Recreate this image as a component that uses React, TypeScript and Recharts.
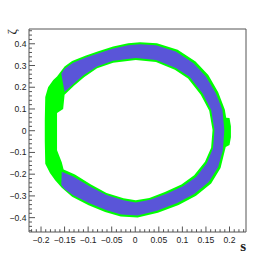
import React from 'react';
import { ScatterChart, Scatter, XAxis, YAxis, ReferenceLine } from 'recharts';

const GREEN = '#00ff00';
const BLUE = '#5a55d8';
const AXIS = '#555555';
const TEXT = '#222222';

const xDomain = [-0.2255, 0.235];
const yDomain = [-0.466, 0.468];

// edges of the blue band (outer edge, then inner edge back)
const blueOuter = [
  { s: -0.157, z: 0.262 }, { s: -0.150, z: 0.285 }, { s: -0.132, z: 0.313 },
  { s: -0.105, z: 0.337 }, { s: -0.078, z: 0.357 }, { s: -0.047, z: 0.378 },
  { s: -0.015, z: 0.393 }, { s: 0.010, z: 0.398 }, { s: 0.044, z: 0.393 },
  { s: 0.086, z: 0.365 }, { s: 0.123, z: 0.312 }, { s: 0.150, z: 0.250 },
  { s: 0.171, z: 0.172 }, { s: 0.185, z: 0.095 }, { s: 0.189, z: 0.003 },
  { s: 0.186, z: -0.089 }, { s: 0.176, z: -0.167 }, { s: 0.156, z: -0.236 },
  { s: 0.125, z: -0.291 }, { s: 0.089, z: -0.333 }, { s: 0.046, z: -0.368 },
  { s: 0.005, z: -0.390 }, { s: -0.030, z: -0.386 }, { s: -0.061, z: -0.366 },
  { s: -0.096, z: -0.335 }, { s: -0.132, z: -0.297 }, { s: -0.150, z: -0.268 },
  { s: -0.157, z: -0.250 },
];
const blueInner = [
  { s: -0.156, z: -0.189 }, { s: -0.132, z: -0.211 }, { s: -0.096, z: -0.257 },
  { s: -0.061, z: -0.296 }, { s: -0.025, z: -0.320 }, { s: 0.001, z: -0.330 },
  { s: 0.031, z: -0.318 }, { s: 0.065, z: -0.291 }, { s: 0.101, z: -0.256 },
  { s: 0.129, z: -0.213 }, { s: 0.152, z: -0.149 }, { s: 0.165, z: -0.080 },
  { s: 0.168, z: 0.003 }, { s: 0.161, z: 0.095 }, { s: 0.143, z: 0.171 },
  { s: 0.115, z: 0.248 }, { s: 0.086, z: 0.289 }, { s: 0.044, z: 0.325 },
  { s: 0.001, z: 0.334 }, { s: -0.047, z: 0.322 }, { s: -0.081, z: 0.296 },
  { s: -0.110, z: 0.255 }, { s: -0.132, z: 0.214 }, { s: -0.150, z: 0.178 },
];

// outline of the green band and of the empty middle
const greenOuter = [
  { s: -0.174, z: 0.233 }, { s: -0.166, z: 0.250 }, { s: -0.158, z: 0.272 },
  { s: -0.150, z: 0.295 }, { s: -0.134, z: 0.321 }, { s: -0.106, z: 0.345 },
  { s: -0.080, z: 0.365 }, { s: -0.047, z: 0.387 }, { s: -0.015, z: 0.402 },
  { s: 0.010, z: 0.407 }, { s: 0.046, z: 0.402 }, { s: 0.090, z: 0.373 },
  { s: 0.128, z: 0.319 }, { s: 0.155, z: 0.256 }, { s: 0.176, z: 0.177 },
  { s: 0.190, z: 0.098 }, { s: 0.193, z: 0.060 }, { s: 0.200, z: 0.058 },
  { s: 0.203, z: 0.020 }, { s: 0.203, z: -0.030 }, { s: 0.200, z: -0.066 },
  { s: 0.192, z: -0.075 }, { s: 0.190, z: -0.092 }, { s: 0.181, z: -0.172 },
  { s: 0.161, z: -0.243 }, { s: 0.129, z: -0.299 }, { s: 0.092, z: -0.342 },
  { s: 0.048, z: -0.377 }, { s: 0.005, z: -0.399 }, { s: -0.031, z: -0.395 },
  { s: -0.064, z: -0.374 }, { s: -0.099, z: -0.343 }, { s: -0.134, z: -0.304 },
  { s: -0.156, z: -0.262 }, { s: -0.170, z: -0.228 }, { s: -0.181, z: -0.195 },
  { s: -0.191, z: -0.152 }, { s: -0.192, z: -0.050 }, { s: -0.192, z: 0.050 },
  { s: -0.191, z: 0.155 }, { s: -0.185, z: 0.200 },
];
const greenInner = [
  { s: -0.150, z: 0.165 }, { s: -0.153, z: 0.100 }, { s: -0.166, z: 0.082 },
  { s: -0.166, z: -0.090 }, { s: -0.156, z: -0.145 }, { s: -0.152, z: -0.178 },
  { s: -0.128, z: -0.202 }, { s: -0.094, z: -0.248 }, { s: -0.061, z: -0.287 },
  { s: -0.025, z: -0.311 }, { s: 0.001, z: -0.320 }, { s: 0.030, z: -0.309 },
  { s: 0.063, z: -0.282 }, { s: 0.098, z: -0.247 }, { s: 0.125, z: -0.205 },
  { s: 0.148, z: -0.143 }, { s: 0.161, z: -0.078 }, { s: 0.164, z: 0.003 },
  { s: 0.157, z: 0.092 }, { s: 0.139, z: 0.166 }, { s: 0.112, z: 0.240 },
  { s: 0.084, z: 0.281 }, { s: 0.044, z: 0.316 }, { s: 0.001, z: 0.325 },
  { s: -0.047, z: 0.313 }, { s: -0.081, z: 0.287 }, { s: -0.108, z: 0.247 },
  { s: -0.130, z: 0.207 },
];

const blueBand = [...blueOuter, ...blueInner];

const xTicks = [
  -0.22, -0.21, -0.2, -0.19, -0.18, -0.17, -0.16, -0.15, -0.14, -0.13, -0.12, -0.11,
  -0.1, -0.09, -0.08, -0.07, -0.06, -0.05, -0.04, -0.03, -0.02, -0.01, 0,
  0.01, 0.02, 0.03, 0.04, 0.05, 0.06, 0.07, 0.08, 0.09, 0.1, 0.11, 0.12, 0.13,
  0.14, 0.15, 0.16, 0.17, 0.18, 0.19, 0.2, 0.21, 0.22, 0.23,
];
const xMajor = [-0.2, -0.15, -0.1, -0.05, 0, 0.05, 0.1, 0.15, 0.2];

const yTicks = [
  -0.46, -0.44, -0.42, -0.4, -0.38, -0.36, -0.34, -0.32, -0.3, -0.28, -0.26, -0.24,
  -0.22, -0.2, -0.18, -0.16, -0.14, -0.12, -0.1, -0.08, -0.06, -0.04, -0.02, 0,
  0.02, 0.04, 0.06, 0.08, 0.1, 0.12, 0.14, 0.16, 0.18, 0.2, 0.22, 0.24, 0.26,
  0.28, 0.3, 0.32, 0.34, 0.36, 0.38, 0.4, 0.42, 0.44, 0.46,
];
const yMajor = [-0.4, -0.3, -0.2, -0.1, 0, 0.1, 0.2, 0.3, 0.4];

const isIn = (list: number[], v: number) => list.some((m) => Math.abs(m - v) < 1e-6);
const fmt = (v: number) => {
  const a = parseFloat(Math.abs(v).toFixed(2)).toString();
  return v < -1e-9 ? '\u2212' + a : a;
};

const tickFont = { fontFamily: '"Liberation Sans", Arial, sans-serif', fontSize: 8.6, fill: TEXT };

function XTick(props: any) {
  const { x, y, payload } = props;
  const major = isIn(xMajor, payload.value);
  return (
    <g>
      <line x1={x} x2={x} y1={y} y2={y - (major ? 5.5 : 2.8)} stroke={AXIS} />
      {major && (
        <text x={x} y={y + 11} textAnchor="middle" {...tickFont}>
          {fmt(payload.value)}
        </text>
      )}
    </g>
  );
}

function YTick(props: any) {
  const { x, y, payload } = props;
  const major = isIn(yMajor, payload.value);
  return (
    <g>
      <line x1={x} x2={x + (major ? 6 : 3)} y1={y} y2={y} stroke={AXIS} />
      {major && (
        <text x={x - 2.5} y={y + 3} textAnchor="end" {...tickFont}>
          {fmt(payload.value)}
        </text>
      )}
    </g>
  );
}

const XTitle = () => (
  <text x={246} y={251} textAnchor="end" fontFamily='"Liberation Serif", serif' fontWeight="bold" fontSize={15} fill={TEXT}>
    s
  </text>
);

const YTitle = () => (
  <text x={16} y={29} transform="rotate(-90 16 29)" textAnchor="end" fontFamily='"Liberation Serif", serif' fontSize={13} fill={TEXT}>
    ζ
  </text>
);

const NoDot = () => <g />;

export default function App() {
  return (
    <div style={{ position: 'absolute', left: 0, top: 0, background: '#fff' }}>
      <ScatterChart width={276} height={262} margin={{ top: 29, right: 30, bottom: 29, left: 28 }}>
        <XAxis
          type="number"
          dataKey="s"
          domain={xDomain}
          allowDataOverflow
          ticks={xTicks}
          interval={0}
          tick={XTick}
          tickLine={false}
          tickSize={0}
          tickMargin={0}
          height={1}
          axisLine={{ stroke: AXIS }}
          label={<XTitle />}
        />
        <YAxis
          type="number"
          dataKey="z"
          domain={yDomain}
          allowDataOverflow
          ticks={yTicks}
          interval={0}
          tick={YTick}
          tickLine={false}
          tickSize={0}
          tickMargin={0}
          width={1}
          axisLine={{ stroke: AXIS }}
          label={<YTitle />}
        />
        <Scatter data={greenOuter} shape={NoDot} line={{ fill: GREEN, stroke: 'none' }} isAnimationActive={false} />
        <Scatter data={greenInner} shape={NoDot} line={{ fill: '#ffffff', stroke: 'none' }} isAnimationActive={false} />
        <Scatter data={blueBand} shape={NoDot} line={{ fill: BLUE, stroke: 'none' }} isAnimationActive={false} />
        <ReferenceLine y={yDomain[1]} stroke={AXIS} ifOverflow="visible" />
        <ReferenceLine x={xDomain[1]} stroke={AXIS} ifOverflow="visible" />
      </ScatterChart>
    </div>
  );
}
